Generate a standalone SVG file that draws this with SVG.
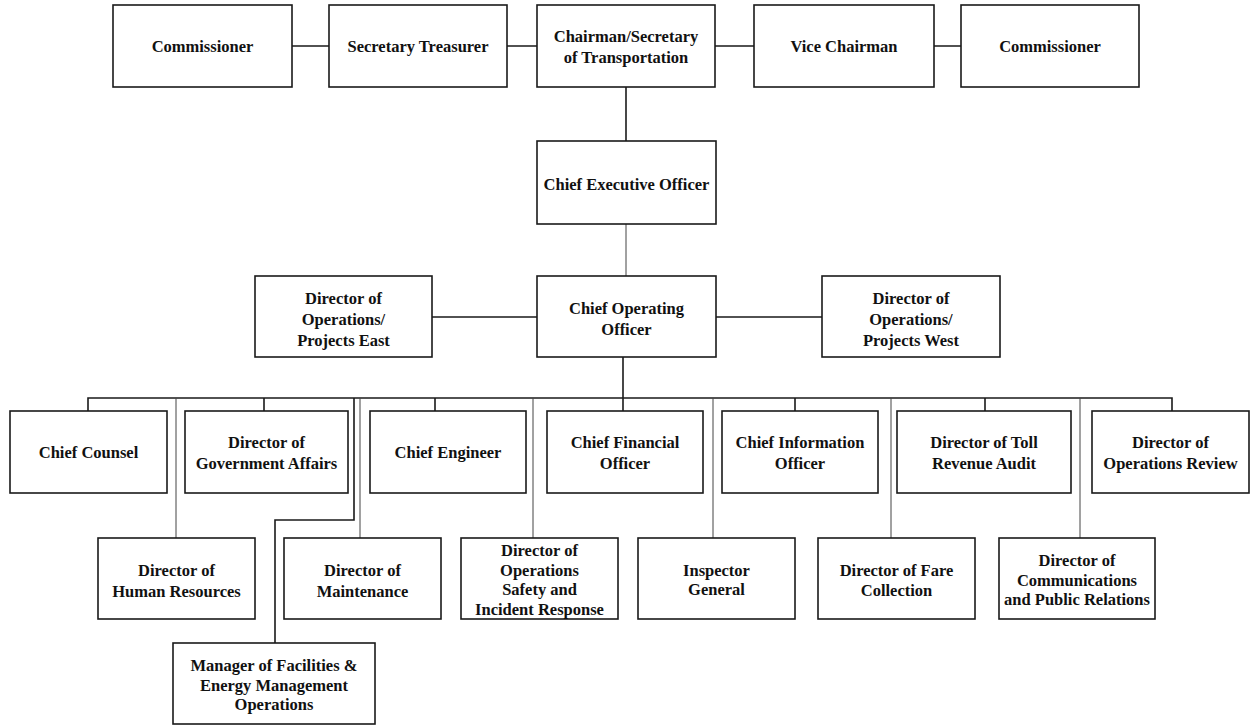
<svg xmlns="http://www.w3.org/2000/svg" width="1253" height="726" viewBox="0 0 1253 726">
<style>
.box{fill:#fff;stroke:#1a1a1a;stroke-width:1.6}
.t{font-family:"Liberation Serif","Times New Roman",serif;font-weight:bold;font-size:16.5px;fill:#111;text-anchor:middle}
.c{fill:none;stroke:#1a1a1a;stroke-width:1.6}
.c2{fill:none;stroke:#444;stroke-width:1}
</style>
<rect width="1253" height="726" fill="#fff"/>
<g id="connectors">
<path class="c" d="M292 46H329M507 46H537M715 46H754M934 46H961"/>
<path class="c" d="M626 87V141"/>
<path class="c2" d="M626 224V276"/>
<path class="c" d="M432 317H537M716 317H822"/>
<path class="c" d="M623 357V411"/>
<path class="c" d="M88 411V398H1172V411"/>
<path class="c" d="M264 398V411M435 398V411M795 398V411M985 398V411"/>
<path class="c2" d="M176 398V538M360 398V538M533 398V538M713 398V538M891 398V538M1080 398V538"/>
<path class="c" d="M354 398V520H275V643"/>
</g>
<g id="n-commissioner-left"><rect class="box" x="113" y="5" width="179" height="82"/><text class="t" x="202.5" y="52">Commissioner</text></g>
<g id="n-secretary-treasurer"><rect class="box" x="329" y="5" width="178" height="82"/><text class="t" x="418" y="52">Secretary Treasurer</text></g>
<g id="n-chairman"><rect class="box" x="537" y="5" width="178" height="82"/><text class="t" x="626" y="42">Chairman/Secretary</text><text class="t" x="626" y="63">of Transportation</text></g>
<g id="n-vice-chairman"><rect class="box" x="754" y="5" width="180" height="82"/><text class="t" x="844" y="52">Vice Chairman</text></g>
<g id="n-commissioner-right"><rect class="box" x="961" y="5" width="178" height="82"/><text class="t" x="1050" y="52">Commissioner</text></g>
<g id="n-ceo"><rect class="box" x="537" y="141" width="179" height="83"/><text class="t" x="626.5" y="190">Chief Executive Officer</text></g>
<g id="n-coo"><rect class="box" x="537" y="276" width="179" height="81"/><text class="t" x="626.5" y="314">Chief Operating</text><text class="t" x="626.5" y="335">Officer</text></g>
<g id="n-dir-east"><rect class="box" x="255" y="276" width="177" height="81"/><text class="t" x="343.5" y="304">Director of</text><text class="t" x="343.5" y="325">Operations/</text><text class="t" x="343.5" y="346">Projects East</text></g>
<g id="n-dir-west"><rect class="box" x="822" y="276" width="178" height="81"/><text class="t" x="911" y="304">Director of</text><text class="t" x="911" y="325">Operations/</text><text class="t" x="911" y="346">Projects West</text></g>
<g id="n-chief-counsel"><rect class="box" x="10" y="411" width="157" height="82"/><text class="t" x="88.5" y="458">Chief Counsel</text></g>
<g id="n-gov-affairs"><rect class="box" x="185" y="411" width="163" height="82"/><text class="t" x="266.5" y="448">Director of</text><text class="t" x="266.5" y="469">Government Affairs</text></g>
<g id="n-chief-engineer"><rect class="box" x="370" y="411" width="156" height="82"/><text class="t" x="448" y="458">Chief Engineer</text></g>
<g id="n-cfo"><rect class="box" x="547" y="411" width="156" height="82"/><text class="t" x="625" y="448">Chief Financial</text><text class="t" x="625" y="469">Officer</text></g>
<g id="n-cio"><rect class="box" x="722" y="411" width="156" height="82"/><text class="t" x="800" y="448">Chief Information</text><text class="t" x="800" y="469">Officer</text></g>
<g id="n-toll-audit"><rect class="box" x="897" y="411" width="174" height="82"/><text class="t" x="984" y="448">Director of Toll</text><text class="t" x="984" y="469">Revenue Audit</text></g>
<g id="n-ops-review"><rect class="box" x="1092" y="411" width="157" height="82"/><text class="t" x="1170.5" y="448">Director of</text><text class="t" x="1170.5" y="469">Operations Review</text></g>
<g id="n-hr"><rect class="box" x="98" y="538" width="157" height="81"/><text class="t" x="176.5" y="576">Director of</text><text class="t" x="176.5" y="597">Human Resources</text></g>
<g id="n-maintenance"><rect class="box" x="284" y="538" width="157" height="81"/><text class="t" x="362.5" y="576">Director of</text><text class="t" x="362.5" y="597">Maintenance</text></g>
<g id="n-ops-safety"><rect class="box" x="461" y="538" width="157" height="81"/><text class="t" x="539.5" y="556">Director of</text><text class="t" x="539.5" y="576">Operations</text><text class="t" x="539.5" y="595">Safety and</text><text class="t" x="539.5" y="615">Incident Response</text></g>
<g id="n-inspector"><rect class="box" x="638" y="538" width="157" height="81"/><text class="t" x="716.5" y="576">Inspector</text><text class="t" x="716.5" y="595">General</text></g>
<g id="n-fare"><rect class="box" x="818" y="538" width="157" height="81"/><text class="t" x="896.5" y="576">Director of Fare</text><text class="t" x="896.5" y="596">Collection</text></g>
<g id="n-comms"><rect class="box" x="999" y="538" width="156" height="81"/><text class="t" x="1077" y="566">Director of</text><text class="t" x="1077" y="586">Communications</text><text class="t" x="1077" y="605">and Public Relations</text></g>
<g id="n-facilities"><rect class="box" x="173" y="643" width="202" height="81"/><text class="t" x="274" y="671">Manager of Facilities &amp;</text><text class="t" x="274" y="691">Energy Management</text><text class="t" x="274" y="710">Operations</text></g>
</svg>
